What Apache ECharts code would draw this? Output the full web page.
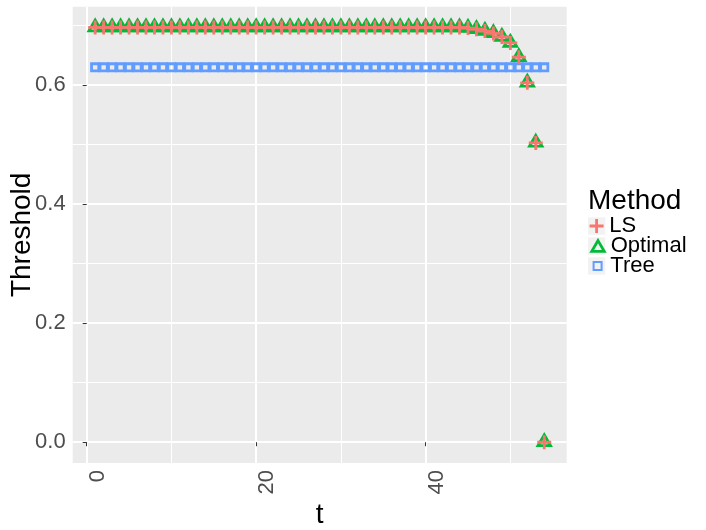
<!DOCTYPE html>
<html><head><meta charset="utf-8">
<script src="https://cdn.jsdelivr.net/npm/echarts@6/dist/echarts.min.js"></script>
<style>html,body{margin:0;padding:0;background:#fff}#c{width:706px;height:530px}</style>
</head><body><div id="c"></div>
<script>
const tValues = [1,2,3,4,5,6,7,8,9,10,11,12,13,14,15,16,17,18,19,20,21,22,23,24,25,26,27,28,29,30,31,32,33,34,35,36,37,38,39,40,41,42,43,44,45,46,47,48,49,50,51,52,53,54];
const lsValues = [0.697,0.697,0.697,0.697,0.697,0.697,0.697,0.697,0.697,0.697,0.697,0.697,0.697,0.697,0.697,0.697,0.697,0.697,0.697,0.697,0.697,0.697,0.697,0.697,0.697,0.697,0.697,0.697,0.697,0.697,0.697,0.697,0.697,0.697,0.697,0.697,0.697,0.697,0.697,0.697,0.697,0.697,0.697,0.697,0.696,0.694,0.691,0.687,0.681,0.671,0.647,0.604,0.503,0.0];
const optimalValues = [0.697,0.697,0.697,0.697,0.697,0.697,0.697,0.697,0.697,0.697,0.697,0.697,0.697,0.697,0.697,0.697,0.697,0.697,0.697,0.697,0.697,0.697,0.697,0.697,0.697,0.697,0.697,0.697,0.697,0.697,0.697,0.697,0.697,0.697,0.697,0.697,0.697,0.697,0.697,0.697,0.697,0.697,0.697,0.697,0.696,0.694,0.691,0.687,0.681,0.671,0.647,0.604,0.503,0.0];
const treeValues = [0.630,0.630,0.630,0.630,0.630,0.630,0.630,0.630,0.630,0.630,0.630,0.630,0.630,0.630,0.630,0.630,0.630,0.630,0.630,0.630,0.630,0.630,0.630,0.630,0.630,0.630,0.630,0.630,0.630,0.630,0.630,0.630,0.630,0.630,0.630,0.630,0.630,0.630,0.630,0.630,0.630,0.630,0.630,0.630,0.630,0.630,0.630,0.630,0.630,0.630,0.630,0.630,0.630,0.630];
const xMajorTicks = [0,20,40];
const xMinorTicks = [10,30,50];
const yMajorTicks = [0,0.2,0.4,0.6];
const yMinorTicks = [0.1,0.3,0.5,0.7];
const methods = ['LS','Optimal','Tree'];
const colors = ['#F8766D','#00BA38','#619CFF'];

const FF = '"Liberation Sans", Arial, Helvetica, sans-serif';
const xMin = -1.65, xMax = 56.65, yMin = -0.0349, yMax = 0.7319;
const pairs = vals => tValues.map((t,i)=>[t, vals[i]]);

const chart = echarts.init(document.getElementById('c'), null, {renderer:'canvas'});
const hiddenAxisBase = {axisLine:{show:false}, axisLabel:{show:false}};
chart.setOption({
  animation:false,
  textStyle:{fontFamily:FF},
  grid:{left:72.7, top:6.7, width:494, height:456.3, show:true, backgroundColor:'#EBEBEB', borderWidth:0,
        containLabel:false, outerBoundsMode:'none'},
  title:{text:'Method', left:588, top:187, padding:0, textStyle:{fontSize:28, fontWeight:'normal', color:'#000', fontFamily:FF, lineHeight:28}},
  graphic:[
    {type:'rect', shape:{x:588, y:217.35, width:17.3, height:17.3}, style:{fill:'#F2F2F2'}, silent:true},
    {type:'rect', shape:{x:588, y:237.35, width:17.3, height:17.3}, style:{fill:'#F2F2F2'}, silent:true},
    {type:'rect', shape:{x:588, y:257.35, width:17.3, height:17.3}, style:{fill:'#F2F2F2'}, silent:true}
  ],
  legend:[
    {data:[methods[0]], left:589.6, top:215, padding:0, itemWidth:14, itemHeight:14, selectedMode:false,
     itemStyle:{opacity:1},
     textStyle:{fontSize:22, lineHeight:22, color:'#000', fontFamily:FF, padding:[0,0,0,0.7]}},
    {data:[methods[1]], left:590.35, top:235, padding:0, itemWidth:12.5, itemHeight:10.8, selectedMode:false,
     itemStyle:{opacity:1, borderWidth:2.8},
     textStyle:{fontSize:22, lineHeight:22, color:'#000', fontFamily:FF, padding:[0,0,0,1.5]}},
    {data:[methods[2]], left:592.6, top:255, padding:0, itemWidth:8, itemHeight:8, selectedMode:false,
     itemStyle:{opacity:1},
     textStyle:{fontSize:22, lineHeight:22, color:'#000', fontFamily:FF, padding:[0,0,0,3.7]}}
  ],
  xAxis:[
    {type:'value', min:xMin, max:xMax, position:'bottom',
     axisLine:{show:false},
     axisTick:{show:true, customValues:xMajorTicks, length:4, lineStyle:{color:'#333333', width:1}},
     axisLabel:{customValues:xMajorTicks, rotate:90, verticalAlign:'top', margin:7, fontSize:22, color:'#4D4D4D', fontFamily:FF},
     splitLine:{show:true, lineStyle:{color:'#FFFFFF', width:2}},
     name:'t', nameLocation:'middle', nameGap:38, nameMoveOverlap:false,
     nameTextStyle:{fontSize:28, color:'#000', fontFamily:FF}},
    Object.assign({type:'value', min:xMin, max:xMax, position:'top',
     axisTick:{show:false, customValues:xMinorTicks},
     splitLine:{show:true, lineStyle:{color:'#FFFFFF', width:1}}}, hiddenAxisBase)
  ],
  yAxis:[
    {type:'value', min:yMin, max:yMax, position:'left',
     axisLine:{show:false},
     axisTick:{show:true, customValues:yMajorTicks, length:4, lineStyle:{color:'#333333', width:1}},
     axisLabel:{customValues:yMajorTicks, formatter:v=>v.toFixed(1), margin:7, fontSize:22, color:'#4D4D4D', fontFamily:FF},
     splitLine:{show:true, lineStyle:{color:'#FFFFFF', width:2}},
     name:'Threshold', nameLocation:'middle', nameGap:36, nameMoveOverlap:false,
     nameTextStyle:{fontSize:28, color:'#000', fontFamily:FF}},
    Object.assign({type:'value', min:yMin, max:yMax, position:'right',
     axisTick:{show:false, customValues:yMinorTicks},
     splitLine:{show:true, lineStyle:{color:'#FFFFFF', width:1}}}, hiddenAxisBase)
  ],
  series:[
    {name:methods[2], type:'scatter', z:2, silent:true, data:pairs(treeValues),
     symbol:'rect', symbolSize:7.2,
     itemStyle:{color:'rgba(0,0,0,0)', borderColor:colors[2], borderWidth:2.8, opacity:1}},
    {name:methods[1], type:'scatter', z:3, silent:true, data:pairs(optimalValues),
     symbol:'triangle', symbolSize:[12.5,10.8], symbolOffset:[0,-2],
     itemStyle:{color:'rgba(0,0,0,0)', borderColor:colors[1], borderWidth:2.8, opacity:1}},
    {name:methods[0], type:'scatter', z:4, silent:true, data:pairs(lsValues),
     symbol:'path://M4.8,0H7.2V4.8H12V7.2H7.2V12H4.8V7.2H0V4.8H4.8Z', symbolSize:14,
     itemStyle:{color:colors[0], opacity:1}}
  ]
});
</script></body></html>
